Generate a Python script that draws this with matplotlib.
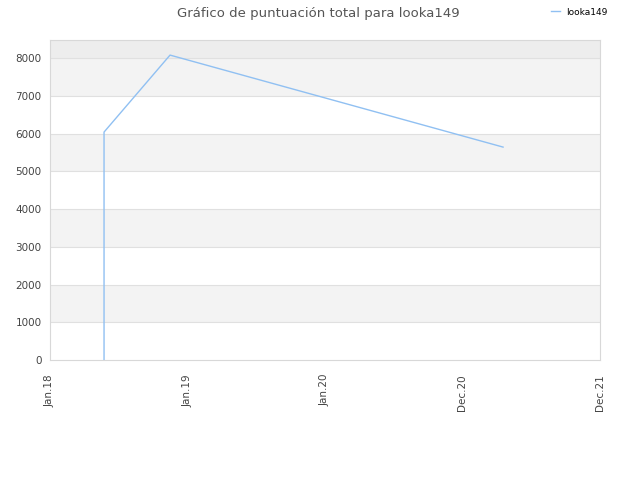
import matplotlib
matplotlib.use("Agg")
import matplotlib.pyplot as plt

tick_labels = ["Jan.18", "Jan.19", "Jan.20", "Dec.20", "Dec.21"]
x_vals = [0.393, 0.393, 0.873, 3.295]
y_vals = [0, 6040, 8080, 5642]
series_name = "looka149"
title = "Gráfico de puntuación total para looka149"

fig = plt.figure(figsize=(6.4, 4.8), dpi=100)
ax = fig.add_axes([50/640, 120/480, 550/640, 320/480])
ymax = 8480
ax.set_xlim(0, 4)
ax.set_ylim(0, ymax)

for i in range(0, 9):
    lo, hi = i*1000, min((i+1)*1000, ymax)
    if i == 8:
        col = "#ededed"
    elif i % 2 == 1:
        col = "#f3f3f3"
    else:
        col = "#ffffff"
    ax.axhspan(lo, hi, color=col, zorder=0, lw=0)
for v in range(1000, 9000, 1000):
    ax.axhline(v, color="#e0e0e0", lw=0.8, zorder=1)

ax.plot(x_vals, y_vals, color="#90c0f2", lw=1.0, zorder=3, label=series_name)

ax.set_xticks(range(len(tick_labels)))
ax.set_xticklabels(tick_labels, rotation=90, fontsize=7.5, color="#444444")
ax.set_yticks(range(0, 9000, 1000))
ax.set_yticklabels([str(v) for v in range(0, 9000, 1000)], fontsize=7.5, color="#444444")
ax.tick_params(axis="y", length=0, pad=6)
ax.tick_params(axis="x", length=0, pad=10)
for s in ax.spines.values():
    s.set_color("#d8d8d8")
    s.set_linewidth(0.8)

fig.text(318/640, 1-13/480, title, ha="center", va="center", fontsize=9.5, color="#555555")
fig.legend(loc="upper right", bbox_to_anchor=(611/640, 1-4/480), frameon=False,
           fontsize=6.5, handlelength=1.0, handletextpad=0.7, borderaxespad=0)

fig.savefig("out.png", dpi=100)
